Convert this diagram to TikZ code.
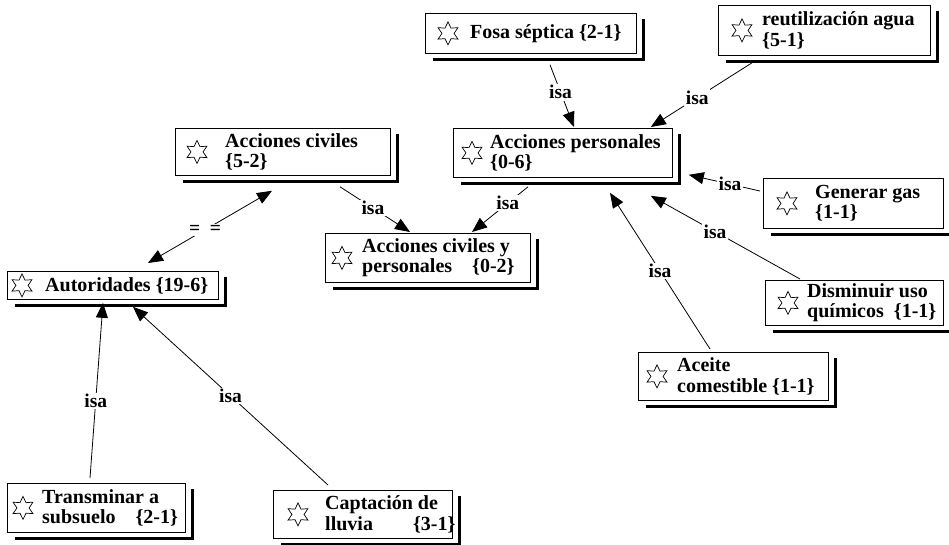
\documentclass[tikz,border=0pt]{standalone}
\usepackage{fontspec}
\setmainfont{Liberation Serif}
\usetikzlibrary{arrows.meta,shapes.geometric,calc}

\tikzset{
  cbox/.style={draw=black, line width=0.8pt, fill=white, inner sep=0pt, anchor=north west},
  cshadow/.style={line width=3pt, line cap=butt},
  cstar/.style={star, star points=6, star point ratio=1.9, draw, line width=0.7pt, minimum size=23pt, inner sep=0pt},
  ctext/.style={anchor=west, align=left, inner sep=0pt, font=\bfseries\fontsize{20}{20.5}\selectfont},
  isa/.style={line width=0.8pt, -{Triangle[length=15pt,width=12pt]}},
  dbl/.style={line width=0.8pt, {Triangle[length=15pt,width=12pt]}-{Triangle[length=15pt,width=12pt]}},
  lab/.style={fill=white, inner sep=1.5pt, font=\bfseries\fontsize{19.5}{20}\selectfont},
}

\newcommand\cmbox[8]{%
  \node[cbox, minimum width=#4pt, minimum height=#5pt] (#1) at (#2,#3) {};
  \draw[cshadow] ($(#1.north east)+(6.5,6)$) -- ($(#1.south east)+(6.5,7.5)$);
  \draw[cshadow] ($(#1.south west)+(8,6)$) -- ($(#1.south east)+(8,6)$);
  \node[cstar] (#1-s) at ($(#1.west)+(#6,0)$) {};
  \node[ctext] (#1-t) at ($(#1.west)+(#7,0)$) {#8};
}

\begin{document}
\begin{tikzpicture}[x=1pt, y=-1pt]
\useasboundingbox[fill=white] (0,0) rectangle (949,544);

\cmbox{fosa}{425}{13}{211}{40}{23}{45}{Fosa séptica \{2-1\}}
\cmbox{reut}{718}{5}{212}{50}{24}{44}{reutilización agua\\\{5-1\}}
\cmbox{ap}{453}{128}{219}{49}{19}{37}{Acciones personales\\\{0-6\}}
\cmbox{ac}{175}{128}{215}{47}{22}{50}{Acciones civiles\\\{5-2\}}
\cmbox{acyp}{325}{233}{205}{49}{17}{37}{Acciones civiles y\\personales\quad\{0-2\}}
\cmbox{aut}{7}{271}{211}{28}{15}{38}{Autoridades \{19-6\}}
\cmbox{gas}{763}{178}{180}{50}{24}{52}{Generar gas\\\{1-1\}}
\cmbox{dis}{765}{280}{178}{45}{23}{42}{Disminuir uso\\químicos\enspace\{1-1\}}
\cmbox{ace}{638}{352}{190}{48}{19}{39}{Aceite\\comestible \{1-1\}}
\cmbox{tra}{7}{483}{178}{49}{16}{35}{Transminar a\\subsuelo\quad\{2-1\}}
\cmbox{cap}{273}{490}{179}{48}{25}{52}{Captación de\\lluvia\qquad\{3-1\}}

\draw[isa] ($(fosa.south west)+(125,11)$) -- node[lab, pos=0.44]{isa} ($(ap.north west)+(121,-1)$);
\draw[isa] ($(reut.south west)+(34,7)$) -- node[lab, pos=0.54]{isa} ($(ap.north east)+(-22,-1)$);
\draw[isa] ($(gas.north west)+(-3,13)$) -- node[lab, pos=0.42]{isa} ($(ap.south east)+(16,-3)$);
\draw[isa] ($(dis.north west)+(35,-1)$) -- node[lab, pos=0.57]{isa} ($(ap.south east)+(-22,18)$);
\draw[isa] ($(ace.north west)+(72,-3)$) -- node[lab, pos=0.5]{isa} ($(ap.south west)+(157,15)$);
\draw[isa] ($(ap.south west)+(75,9)$) -- node[lab, pos=0.36]{isa} ($(acyp.north west)+(147,-1)$);
\draw[isa] ($(ac.south west)+(165,11)$) -- node[lab, pos=0.47]{isa} ($(acyp.north west)+(85,-1)$);
\draw[dbl] ($(ac.south west)+(97,15)$) -- node[lab, pos=0.54]{=\ \ =} ($(aut.north west)+(141,-8)$);
\draw[isa] ($(tra.north west)+(83,-5)$) -- node[lab, pos=0.44]{isa} ($(aut.south west)+(96,3)$);
\draw[isa] ($(cap.north west)+(55,-5)$) -- node[lab, pos=0.5]{isa} ($(aut.south west)+(126,7)$);
\end{tikzpicture}
\end{document}
